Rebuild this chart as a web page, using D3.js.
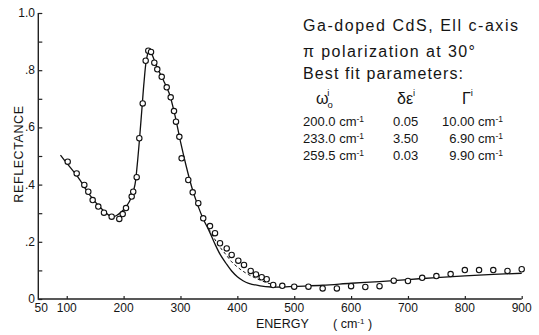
<!DOCTYPE html>
<html>
<head>
<meta charset="utf-8">
<script src="https://cdn.jsdelivr.net/npm/d3@7"></script>
<style>
  body { margin: 0; background: #fff; }
  text { font-family: "Liberation Sans", Arial, sans-serif; fill: #151515; }
</style>
</head>
<body>
<div id="chart"></div>
<script>
// measured reflectance (open circles)
var measE = [101.7, 117.5, 130.9, 137.9, 145.6, 155.5, 165.5, 179, 192.4, 198.4, 204.2, 214.2, 216.9, 223,
             227.6, 233.6, 238.8, 243.4, 248.2, 254, 259.2, 267, 275.8, 282.8, 288.6, 292.1, 298, 302,
             313.7, 321.5, 331.3, 340, 351.9, 360.7, 369.5, 381.3, 390, 401.7, 411.7, 423.5, 432.8, 442.8,
             451.6, 463, 479, 500, 525, 550, 575, 600, 625, 650, 675, 700, 725, 750, 775, 800, 825, 850, 875, 900];
var measR = [.480, .439, .399, .375, .346, .323, .302, .288, .280, .297, .318, .358, .375, .426,
             .562, .684, .833, .868, .864, .826, .803, .777, .740, .705, .657, .620, .567, .492,
             .416, .373, .335, .282, .255, .230, .195, .177, .154, .134, .119, .098, .086, .076,
             .069, .049, .046, .043, .043, .037, .037, .045, .042, .045, .064, .063, .074, .080, .087, .101, .101, .101, .098, .104];

// best fit (solid)
var fitE = [89, 100, 120, 140, 160, 180, 190, 200, 210, 216, 220, 224, 228, 232, 236, 240, 244, 247, 250, 255,
            260, 270, 280, 290, 300, 310, 320, 330, 340, 350, 360, 370, 380, 390, 400, 410, 420, 440, 460, 480,
            500, 550, 600, 650, 700, 750, 800, 850, 900];
var fitR = [.503, .475, .425, .365, .318, .287, .295, .312, .34, .37, .40, .47, .56, .66, .76, .835, .865, .868, .855, .83,
            .805, .765, .72, .645, .55, .465, .39, .33, .28, .24, .195, .155, .125, .098, .078, .064, .055, .046, .042, .042,
            .044, .048, .055, .061, .068, .075, .081, .086, .09];

// alternative fit (dashed)
var dashE = [350, 360, 370, 380, 390, 400, 410, 420, 430, 440, 450, 460, 470];
var dashR = [.245, .21, .18, .155, .13, .112, .097, .085, .075, .066, .058, .052, .048];

var xTicks = [50, 100, 200, 300, 400, 500, 600, 700, 800, 900];
var xMinor = [100, 200, 300, 400, 500, 600, 700, 800, 900];
var yTicks = [0, .1, .2, .3, .4, .5, .6, .7, .8, .9, 1.0];
var yLabels = {"0": "0", "0.2": ".2", "0.4": ".4", "0.6": ".6", "0.8": ".8", "1": "1.0"};

var titleLines = ["Ga-doped  CdS, Ell c-axis", "\u03c0 polarization at 30\u00b0", "Best fit parameters:"];
var paramW = ["200.0", "233.0", "259.5"];
var paramD = ["0.05", "3.50", "0.03"];
var paramG = ["10.00", "6.90", "9.90"];

var width = 539, height = 335;

var svg = d3.select("#chart").append("svg")
    .attr("width", width)
    .attr("height", height);

var x = d3.scaleLinear().domain([50, 900]).range([38.3, 521.7]);
var y = d3.scaleLinear().domain([0, 1]).range([299, 13]);

// axes
var xAxis = svg.append("g")
    .attr("transform", "translate(0," + y(0) + ")")
    .call(d3.axisBottom(x).tickValues(xMinor).tickSize(-3).tickSizeOuter(0).tickFormat(""));
xAxis.select(".domain").remove();
xAxis.selectAll("line").attr("stroke", "#222").attr("stroke-width", 1.2);

var yAxis = svg.append("g")
    .attr("transform", "translate(" + x(50) + ",0)")
    .call(d3.axisLeft(y).tickValues(yTicks).tickSize(-4).tickSizeOuter(0).tickFormat(""));
yAxis.select(".domain").remove();
yAxis.selectAll("line").attr("stroke", "#222").attr("stroke-width", 1.2);

svg.append("path")
    .attr("d", "M" + x(50) + "," + y(1) + "V" + y(0) + "H" + x(900))
    .attr("fill", "none")
    .attr("stroke", "#222")
    .attr("stroke-width", 1.4);

svg.selectAll(".xlab").data(xTicks).enter().append("text")
    .attr("x", function(d) { return x(d) + (d == 50 ? 3 : 0); })
    .attr("y", 312)
    .attr("text-anchor", "middle")
    .attr("font-size", 12)
    .text(function(d) { return d; });

svg.selectAll(".ylab").data(yTicks.filter(function(d) { return yLabels[String(+d.toFixed(1))]; }))
    .enter().append("text")
    .attr("x", 35)
    .attr("y", function(d) { return y(d) + 4; })
    .attr("text-anchor", "end")
    .attr("font-size", 12)
    .text(function(d) { return yLabels[String(+d.toFixed(1))]; });

svg.append("text")
    .attr("transform", "translate(23,154) rotate(-90)")
    .attr("text-anchor", "middle")
    .attr("font-size", 12.5)
    .attr("letter-spacing", 0.6)
    .text("REFLECTANCE");

var xt = svg.append("text").attr("x", 256).attr("y", 328).attr("font-size", 12.5);
xt.append("tspan").text("ENERGY");
xt.append("tspan").attr("x", 333).text("( cm");
xt.append("tspan").attr("font-size", 8).attr("dy", -4).text("-1");
xt.append("tspan").attr("dy", 4).text(" )");

// curves
var line = d3.line()
    .x(function(d) { return x(d[0]); })
    .y(function(d) { return y(d[1]); })
    .curve(d3.curveCatmullRom.alpha(0.5));

svg.append("path")
    .datum(d3.zip(fitE, fitR))
    .attr("d", line)
    .attr("fill", "none")
    .attr("stroke", "#111")
    .attr("stroke-width", 1.3);

svg.append("path")
    .datum(d3.zip(dashE, dashR))
    .attr("d", line)
    .attr("fill", "none")
    .attr("stroke", "#111")
    .attr("stroke-width", 1)
    .attr("stroke-dasharray", "3,2.5");

svg.selectAll(".pt").data(d3.zip(measE, measR)).enter().append("circle")
    .attr("cx", function(d) { return x(d[0]); })
    .attr("cy", function(d) { return y(d[1]); })
    .attr("r", 2.7)
    .attr("fill", "#fff")
    .attr("stroke", "#111")
    .attr("stroke-width", 1.1);

// annotation block
var lineY = [31, 57, 79];
var lineLen = [215, 172, 160];
titleLines.forEach(function(t, i) {
    svg.append("text")
        .attr("x", 303)
        .attr("y", lineY[i])
        .attr("font-size", 16)
        .attr("textLength", lineLen[i])
        .attr("lengthAdjust", "spacing")
        .text(t);
});

var hw = svg.append("text").attr("x", 316).attr("y", 104).attr("font-size", 16);
hw.append("tspan").text("\u03c9");
hw.append("tspan").attr("font-size", 9.5).attr("dx", -1).attr("dy", 4).text("o");
hw.append("tspan").attr("font-size", 9.5).attr("dx", -5.5).attr("dy", -12).text("i");

var hd = svg.append("text").attr("x", 397).attr("y", 104).attr("font-size", 16);
hd.append("tspan").text("\u03b4\u03b5");
hd.append("tspan").attr("font-size", 9.5).attr("dy", -8).text("i");

var hg = svg.append("text").attr("x", 462).attr("y", 104).attr("font-size", 16);
hg.append("tspan").text("\u0393");
hg.append("tspan").attr("font-size", 9.5).attr("dy", -8).text("i");

var rowY = [126, 143, 160];
paramW.forEach(function(w, i) {
    var t1 = svg.append("text").attr("x", 303).attr("y", rowY[i]).attr("font-size", 13);
    t1.append("tspan").text(w + " cm");
    t1.append("tspan").attr("font-size", 8.5).attr("dy", -4).text("-1");

    svg.append("text").attr("x", 393).attr("y", rowY[i]).attr("font-size", 13).text(paramD[i]);

    var t3 = svg.append("text").attr("x", 503).attr("y", rowY[i]).attr("font-size", 13).attr("text-anchor", "end");
    t3.append("tspan").text(paramG[i] + " cm");
    t3.append("tspan").attr("font-size", 8.5).attr("dy", -4).text("-1");
});
</script>
</body>
</html>
